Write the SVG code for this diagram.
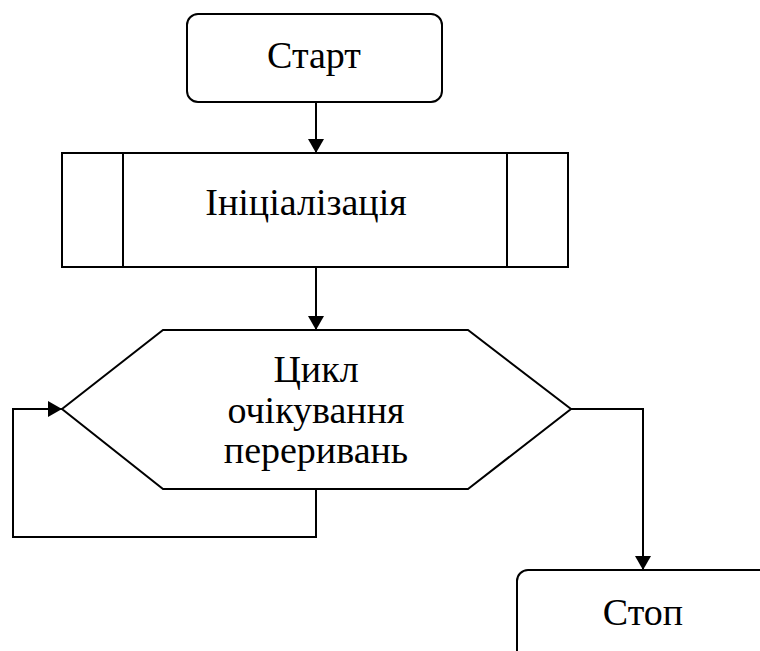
<svg xmlns="http://www.w3.org/2000/svg" width="760" height="651" viewBox="0 0 760 651">
<style>
.s{fill:#fff;stroke:#000;stroke-width:2}
.l{fill:none;stroke:#000;stroke-width:2}
.t{font-family:"Liberation Serif","Times New Roman",serif;font-size:38px;fill:#000;text-anchor:middle}
</style>
<defs>
<marker id="a" markerWidth="14" markerHeight="16" refX="14" refY="8" orient="auto" markerUnits="userSpaceOnUse">
<path d="M0,0 L14,8 L0,16 Z" fill="#000"/>
</marker>
</defs>
<rect width="760" height="651" fill="#fff"/>
<g id="connectors">
<line class="l" x1="316" y1="102" x2="316" y2="153" marker-end="url(#a)"/>
<line class="l" x1="316" y1="267" x2="316" y2="330" marker-end="url(#a)"/>
<polyline class="l" points="316,489 316,537 13,537 13,409 62,409" marker-end="url(#a)"/>
<polyline class="l" points="571,409 643,409 643,570" marker-end="url(#a)"/>
</g>
<g id="start">
<rect class="s" x="187" y="14" width="255" height="88" rx="11"/>
<text class="t" x="314" y="68">Старт</text>
</g>
<g id="init">
<rect class="s" x="62" y="153" width="506" height="114"/>
<line class="l" x1="123" y1="153" x2="123" y2="267"/>
<line class="l" x1="507" y1="153" x2="507" y2="267"/>
<text class="t" x="306" y="215">Ініціалізація</text>
</g>
<g id="loop">
<polygon class="s" points="62,409 163,330 468,330 571,409 468,489 163,489"/>
<text class="t" x="316" y="382">Цикл</text>
<text class="t" x="316" y="423">очікування</text>
<text class="t" x="316" y="463">переривань</text>
</g>
<g id="stop">
<rect class="s" x="517" y="570" width="254" height="100" rx="11"/>
<text class="t" x="643" y="625">Стоп</text>
</g>
</svg>
